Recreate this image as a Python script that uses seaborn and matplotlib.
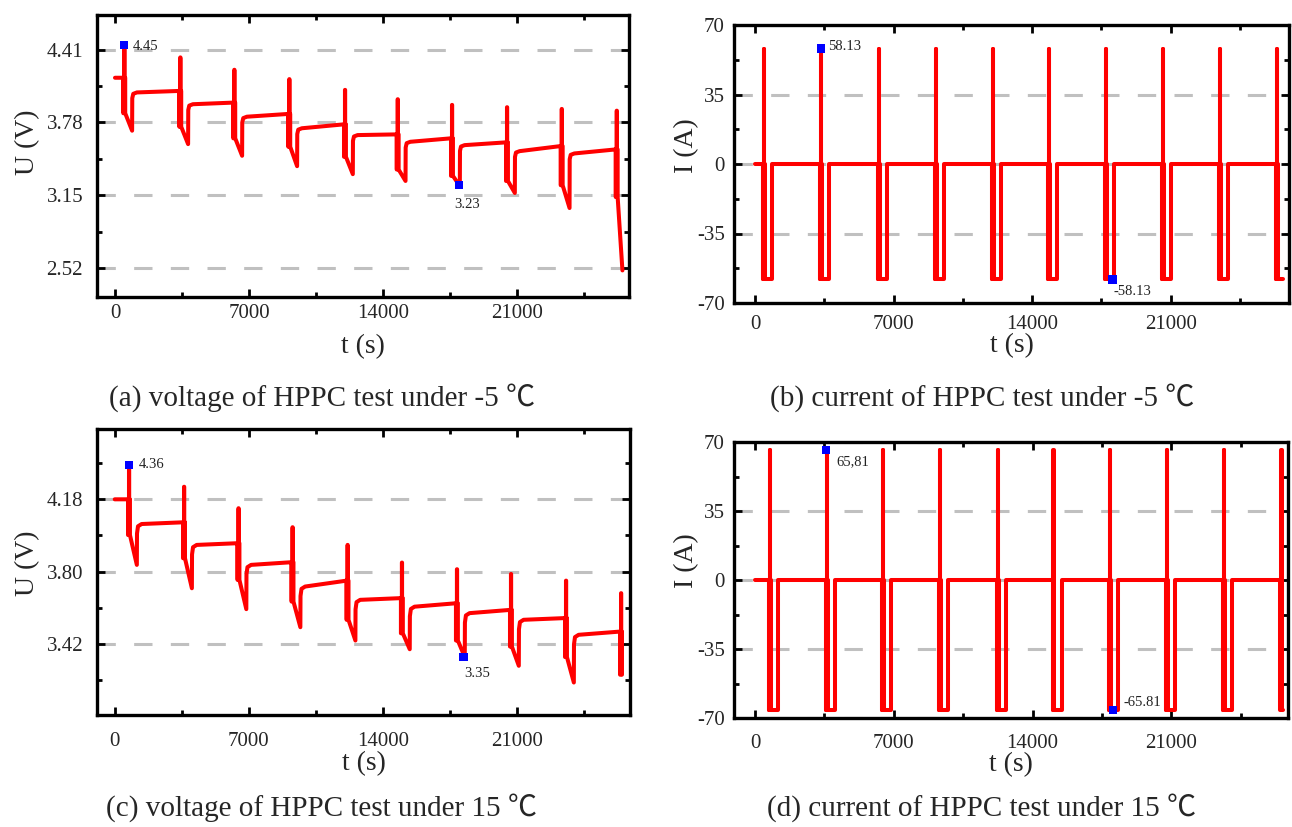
import numpy as np
import pandas as pd
import matplotlib
matplotlib.use("Agg")
import matplotlib.pyplot as plt
import seaborn as sns
from matplotlib.ticker import MultipleLocator, FormatStrFormatter

# ---------------- values ----------------
# HPPC step protocol durations (s)
pulse_dis_s = 10
pulse_rest_s = 40
pulse_chg_s = 10
step_dis_s = 360
# relaxation after each SOC step (offset s, offset V from rest level)
relax_dt = [8, 60, 250]
relax_du = [-0.05, -0.012, 0.0]

# (a) voltage, -5 C
t_start_a = [434, 3359, 6180, 9053, 11963, 14716, 17553, 20426, 23284, 26157]
u_init_a = 4.167
u_top_a = [4.45, 4.343, 4.236, 4.155, 4.062, 3.981, 3.932, 3.912, 3.897, 3.882]
u_drop_a = [3.86, 3.743, 3.643, 3.57, 3.483, 3.373, 3.318, 3.274, 3.237, 3.135]
u_min_a = [3.709, 3.593, 3.492, 3.402, 3.333, 3.274, 3.23, 3.17, 3.04, 2.50]
u_rest_a = [4.04, 3.938, 3.83, 3.73, 3.671, 3.613, 3.584, 3.532, 3.512]
u_end_a = [4.053, 3.952, 3.854, 3.764, 3.677, 3.643, 3.608, 3.576, 3.547]
last_step_a = 250

# (b) current, -5 C
t_start_b = [404, 3283, 6212, 9090, 11968, 14813, 17675, 20570, 23432, 26310]
i_peak_b = 58.13
last_step_b = 250

# (c) voltage, 15 C
t_start_c = [695, 3568, 6410, 9231, 12104, 14941, 17814, 20635, 23508, 26381]
u_init_c = 4.18
u_top_c = [4.36, 4.246, 4.133, 4.033, 3.94, 3.847, 3.812, 3.787, 3.752, 3.686]
u_drop_c = [3.992, 3.87, 3.756, 3.642, 3.546, 3.475, 3.437, 3.405, 3.35, 3.257]
u_min_c = [3.835, 3.712, 3.602, 3.507, 3.437, 3.391, 3.35, 3.304, 3.216]
u_rest_c = [4.05, 3.94, 3.835, 3.721, 3.651, 3.615, 3.581, 3.546, 3.467]
u_end_c = [4.059, 3.949, 3.849, 3.752, 3.66, 3.633, 3.598, 3.555, 3.484]

# (d) current, 15 C
t_start_d = [721, 3563, 6415, 9288, 12181, 15004, 17857, 20714, 23603, 26496]
i_peak_d = 65.81
last_step_d = 20

# highlighted points: (t, value, label)
mark_a = [(486, 4.45, "4.45"), (17970, 3.237, "3.23")]
mark_b = [(3318, 58.13, "58.13"), (18064, -58.13, "-58.13")]
mark_c = [(731, 4.36, "4.36"), (18216, 3.35, "3.35")]
mark_d = [(3578, 65.81, "65,81"), (18057, -65.81, "-65.81")]

captions = ["(a) voltage of HPPC test under -5 \u2103",
            "(b) current of HPPC test under -5 \u2103",
            "(c) voltage of HPPC test under 15 \u2103",
            "(d) current of HPPC test under 15 \u2103"]


def build_voltage(starts, u0, tops, drops, mins, rests, ends, last_len):
    t, u = [0.0], [u0]
    pre = u0
    n = len(starts)
    for k, t0 in enumerate(starts):
        a = t0 + pulse_dis_s
        b = a + pulse_rest_s
        c = b + pulse_chg_s
        d = c + pulse_rest_s
        t += [t0, t0, a, a, b, b, c, c, d, d]
        u += [pre, drops[k], drops[k], pre, pre, tops[k], tops[k], pre, pre, drops[k]]
        if k < len(mins):
            e = d + (step_dis_s if k < n - 1 else last_len)
            t.append(e)
            u.append(mins[k])
        if k < len(rests):
            for dt, du in zip(relax_dt, relax_du):
                t.append(e + dt)
                u.append(rests[k] + du)
            t.append(starts[k + 1])
            u.append(ends[k])
            pre = ends[k]
    return pd.DataFrame({"t": t, "y": u})


def build_current(starts, peak, last_len):
    t, i = [0.0], [0.0]
    n = len(starts)
    for k, t0 in enumerate(starts):
        a = t0 + pulse_dis_s
        b = a + pulse_rest_s
        c = b + pulse_chg_s
        d = c + pulse_rest_s
        t += [t0, t0, a, a, b, b, c, c, d, d]
        i += [0, -peak, -peak, 0, 0, peak, peak, 0, 0, -peak]
        last = k == n - 1
        e = d + (last_len if last else step_dis_s)
        t.append(e)
        i.append(-peak)
        if not last:
            t.append(e)
            i.append(0)
    return pd.DataFrame({"t": t, "y": i})


df_a = build_voltage(t_start_a, u_init_a, u_top_a, u_drop_a, u_min_a, u_rest_a, u_end_a, last_step_a)
df_b = build_current(t_start_b, i_peak_b, last_step_b)
df_c = build_voltage(t_start_c, u_init_c, u_top_c, u_drop_c, u_min_c, u_rest_c, u_end_c, 0)
df_d = build_current(t_start_d, i_peak_d, last_step_d)

sns.set_style("ticks")
plt.rcParams["font.family"] = ["Liberation Serif", "Noto Sans CJK SC", "DejaVu Sans"]

W, H = 1292, 827
fig = plt.figure(figsize=(W / 100, H / 100), dpi=100)


def px_axes(l, t, r, b):
    return fig.add_axes([l / W, 1 - b / H, (r - l) / W, (b - t) / H])


ax_a = px_axes(97, 15, 629, 297)
ax_b = px_axes(734, 25, 1289, 303)
ax_c = px_axes(97, 429, 630, 715)
ax_d = px_axes(734, 442, 1288, 718)

panels = [
    dict(ax=ax_a, df=df_a, xlim=(-940, 26850), ylim=(2.27, 4.71), major=0.63, minor=0.315,
         fmt="%.2f", ylabel="U (V)", marks=mark_a, xpad=5, ypad=10,
         ylab=(-0.13, 0.55), xlab=-0.176,
         offs=[((6.3, -1.0), "left"), ((5.8, -13.7), "center")]),
    dict(ax=ax_b, df=df_b, xlim=(-1060, 26970), ylim=(-70, 70), major=35, minor=17.5,
         fmt="%d", ylabel="I (A)", marks=mark_b, xpad=8.5, ypad=6.5,
         ylab=(-0.085, 0.565), xlab=-0.155,
         offs=[((5.0, 1.4), "left"), ((13.9, -8.4), "center")]),
    dict(ax=ax_c, df=df_c, xlim=(-925, 26900), ylim=(3.045, 4.55), major=0.38, minor=0.19,
         fmt="%.2f", ylabel="U (V)", marks=mark_c, xpad=12, ypad=10,
         ylab=(-0.13, 0.53), xlab=-0.171,
         offs=[((7.4, 0.7), "left"), ((10.0, -12.0), "center")]),
    dict(ax=ax_d, df=df_d, xlim=(-1058, 26880), ylim=(-70, 70), major=35, minor=17.5,
         fmt="%d", ylabel="I (A)", marks=mark_d, xpad=11.5, ypad=6.5,
         ylab=(-0.085, 0.57), xlab=-0.168,
         offs=[((19.2, -8.4), "center"), ((7.2, 5.5), "left")]),
]

for p in panels:
    ax = p["ax"]
    sns.lineplot(data=p["df"], x="t", y="y", sort=False, estimator=None,
                 color="#ff0000", lw=2.9, ax=ax, zorder=3)
    mk = pd.DataFrame({"t": [m[0] for m in p["marks"]], "y": [m[1] for m in p["marks"]]})
    sns.scatterplot(data=mk, x="t", y="y", marker="s", s=36, color="#0000ff",
                    edgecolor="none", ax=ax, zorder=4)
    for (tm, ym, lab), (off, ha) in zip(p["marks"], p["offs"]):
        ax.annotate(lab, xy=(tm, ym), xytext=off, textcoords="offset points",
                    ha=ha, va="center", fontsize=10.5, color="#222222")
    ax.set_xlim(*p["xlim"])
    ax.set_ylim(*p["ylim"])
    ax.xaxis.set_major_locator(MultipleLocator(7000))
    ax.xaxis.set_minor_locator(MultipleLocator(3500))
    ax.yaxis.set_major_locator(MultipleLocator(p["major"]))
    ax.yaxis.set_minor_locator(MultipleLocator(p["minor"]))
    ax.yaxis.set_major_formatter(FormatStrFormatter(p["fmt"]))
    ax.grid(axis="y", which="major", color="#c0c0c0", linestyle=(0, (6, 6)), lw=2.2, zorder=1)
    ax.set_axisbelow(True)
    ax.tick_params(which="both", direction="in", top=True, right=True, width=2,
                   color="black", labelsize=15)
    ax.tick_params(which="major", length=6)
    ax.tick_params(which="minor", length=3.5)
    ax.tick_params(axis="x", which="both", pad=p["xpad"])
    ax.tick_params(axis="y", which="both", pad=p["ypad"])
    for sp in ax.spines.values():
        sp.set_linewidth(2.4)
        sp.set_color("black")
    ax.set_xlabel("t (s)", fontsize=20)
    ax.set_ylabel(p["ylabel"], fontsize=20)
    ax.xaxis.label.set_va("center")
    ax.yaxis.label.set_va("center")
    ax.xaxis.set_label_coords(0.5, p["xlab"])
    ax.yaxis.set_label_coords(*p["ylab"])

cap_pos = [(322, 398), (982, 398), (322, 808), (982, 808)]
for (cx, cy), txt in zip(cap_pos, captions):
    fig.text(cx / W, 1 - cy / H, txt, ha="center", va="center", fontsize=21)

fig.savefig("out.png", dpi=100, facecolor="white")
